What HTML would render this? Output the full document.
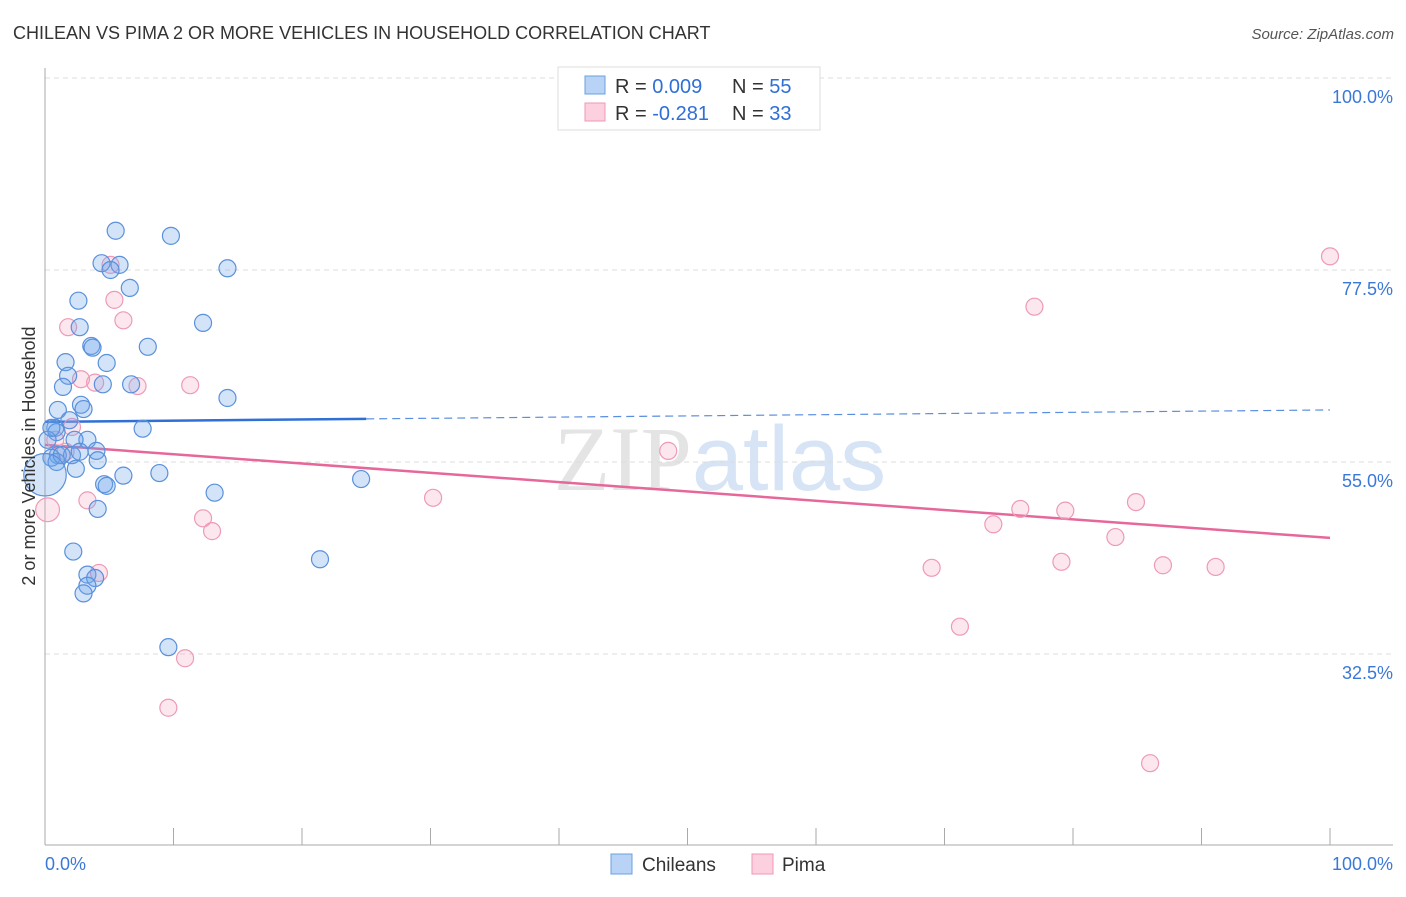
<!DOCTYPE html>
<html><head><meta charset="utf-8"><style>
body{margin:0;background:#fff;font-family:"Liberation Sans",sans-serif;}
svg text{font-family:"Liberation Sans",sans-serif;}
</style></head><body>
<svg id="chart" width="1406" height="892" viewBox="0 0 1406 892">
<text x="13" y="39" font-size="18" fill="#333">CHILEAN VS PIMA 2 OR MORE VEHICLES IN HOUSEHOLD CORRELATION CHART</text>
<text x="1394" y="39" font-size="15" fill="#555" font-style="italic" text-anchor="end">Source: ZipAtlas.com</text>
<text x="720" y="490" font-size="92" text-anchor="middle"><tspan font-family="Liberation Serif" fill="#e4e4e4">ZIP</tspan><tspan fill="#d6e4f5">atlas</tspan></text>
<g id="grid"></g>
<g id="axes"></g>
<g id="trend"></g>
<g id="pts"></g>
<text transform="translate(35,456) rotate(-90)" font-size="18" fill="#333" text-anchor="middle">2 or more Vehicles in Household</text>
<g>
<rect x="558" y="67" width="262" height="63" fill="#fff" stroke="#ddd"/>
<rect x="585" y="76" width="20" height="18" fill="#b8d3f5" stroke="#6a9fe0"/>
<rect x="585" y="103" width="20" height="18" fill="#fcd0de" stroke="#ee98b4"/>
<text x="615" y="93" font-size="20" fill="#333">R = <tspan fill="#2f6fd6">0.009</tspan><tspan x="732">N = </tspan><tspan fill="#2f6fd6">55</tspan></text>
<text x="615" y="120" font-size="20" fill="#333">R = <tspan fill="#2f6fd6">-0.281</tspan><tspan x="732">N = </tspan><tspan fill="#2f6fd6">33</tspan></text>
</g>
<g>
<rect x="611" y="854" width="21" height="20" fill="#b8d3f5" stroke="#6a9fe0"/>
<text x="642" y="871" font-size="19" fill="#333">Chileans</text>
<rect x="752" y="854" width="21" height="20" fill="#fcd0de" stroke="#ee98b4"/>
<text x="782" y="871" font-size="19" fill="#333">Pima</text>
</g>
</svg>
<script>
const chileX=[5.5,9.8,4.4,5.8,5.1,14.2,6.6,2.6,12.3,2.7,8.0,3.6,3.7,1.6,4.8,1.8,1.4,4.5,6.7,14.2,2.8,1.0,3.0,1.9,7.6,0.8,0.9,3.3,2.3,4.0,1.0,2.1,0.5,4.1,2.4,0.9,6.1,8.9,4.6,4.8,13.2,24.6,4.1,2.2,3.3,3.9,3.3,3.0,21.4,9.6,1.3,2.7,0.2,0.5,0.0];
const chileY=[82.1,81.5,78.3,78.1,77.5,77.7,75.4,73.9,71.3,70.8,68.5,68.6,68.4,66.7,66.6,65.1,63.8,64.1,64.1,62.5,61.7,61.1,61.2,59.9,58.9,59.0,58.5,57.6,57.6,56.3,55.8,55.8,55.5,55.2,54.2,55.0,53.4,53.7,52.4,52.2,51.4,53.0,49.5,44.5,41.8,41.4,40.5,39.6,43.6,33.3,55.8,56.2,57.6,59.0,53.5];
const chileSize=[1,1,1,1,1,1,1,1,1,1,1,1,1,1,1,1,1,1,1,1,1,1,1,1,1,1,1,1,1,1,1,1,1,1,1,1,1,1,1,1,1,1,1,1,1,1,1,1,1,1,1,1,1,1,2.5];
const pimaX=[100,77.0,5.1,5.4,1.8,6.1,2.8,3.9,7.2,11.3,48.5,2.1,0.8,1.6,3.3,30.2,12.3,13.0,0.2,73.8,75.9,79.4,84.9,83.3,4.2,69.0,79.1,87.0,91.1,10.9,71.2,9.6,86.0];
const pimaY=[79.1,73.2,78.1,74.0,70.8,71.6,64.7,64.3,63.9,64.0,56.3,59.1,57.6,56.2,50.5,50.8,48.4,46.9,49.4,47.7,49.5,49.3,50.3,46.2,42.0,42.6,43.3,42.9,42.7,32.0,35.7,26.2,19.7];
const pimaSize=[1,1,1,1,1,1,1,1,1,1,1,1,1,1,1,1,1,1,1.4,1,1,1,1,1,1,1,1,1,1,1,1,1,1];
const yTicks=[100,77.5,55,32.5];
const yTickLabels=["100.0%","77.5%","55.0%","32.5%"];
const chileTrend=[59.7,61.1];
const pimaTrend=[57.0,46.1];
const NS="http://www.w3.org/2000/svg";
const sx=v=>45+v*12.85;
const sy=v=>78+(100-v)*8.533;
function mk(tag,attrs,parent){const e=document.createElementNS(NS,tag);for(const k in attrs)e.setAttribute(k,attrs[k]);parent.appendChild(e);return e;}
const grid=document.getElementById('grid'),axes=document.getElementById('axes'),trend=document.getElementById('trend'),pts=document.getElementById('pts');
yTicks.forEach((t,i)=>{
 const l=mk('line',{x1:45,x2:1393,y1:sy(t),y2:sy(t),stroke:'#ddd','stroke-dasharray':'5,4'},grid);
 
 
 const tx=mk('text',{x:1393,y:sy(t)+25,'font-size':18,fill:'#3a78d8','text-anchor':'end'},grid);
 tx.textContent=yTickLabels[i];
 
 
});
mk('line',{x1:45,x2:45,y1:68,y2:845,stroke:'#aaa'},axes);
mk('line',{x1:45,x2:1393,y1:845,y2:845,stroke:'#aaa'},axes);
for(let i=1;i<=10;i++){const x=sx(i*10);mk('line',{x1:x,x2:x,y1:828,y2:845,stroke:'#aaa'},axes);}
const x0=mk('text',{x:45,y:870,'font-size':18,fill:'#3a78d8'},axes);x0.textContent='0.0%';


const x1=mk('text',{x:1393,y:870,'font-size':18,fill:'#3a78d8','text-anchor':'end'},axes);x1.textContent='100.0%';


function draw(X,Y,S,fill,stroke,name){X.forEach((x,i)=>{
 const c=mk('circle',{cx:sx(x),cy:sy(Y[i]),r:8.5*S[i],fill:fill,stroke:stroke,'stroke-width':1.2},pts);
 
 
});}
const cut=25;
const bY=v=>chileTrend[0]+(chileTrend[1]-chileTrend[0])*v/100;
const b1=mk('line',{x1:sx(0),y1:sy(bY(0)),x2:sx(cut),y2:sy(bY(cut)),stroke:'#2f6fd6','stroke-width':2.5},trend);


const b2=mk('line',{x1:sx(cut),y1:sy(bY(cut)),x2:sx(100),y2:sy(bY(100)),stroke:'#5a8ede','stroke-width':1.2,'stroke-dasharray':'8,5'},trend);


const p1=mk('line',{x1:sx(0),y1:sy(pimaTrend[0]),x2:sx(100),y2:sy(pimaTrend[1]),stroke:'#e6689a','stroke-width':2.5},trend);


draw(pimaX,pimaY,pimaSize,'rgba(245,160,190,0.25)','#ee9ab6','pima-point');
draw(chileX,chileY,chileSize,'rgba(110,165,235,0.3)','#5a90dc','chilean-point');
</script>
</body></html>
